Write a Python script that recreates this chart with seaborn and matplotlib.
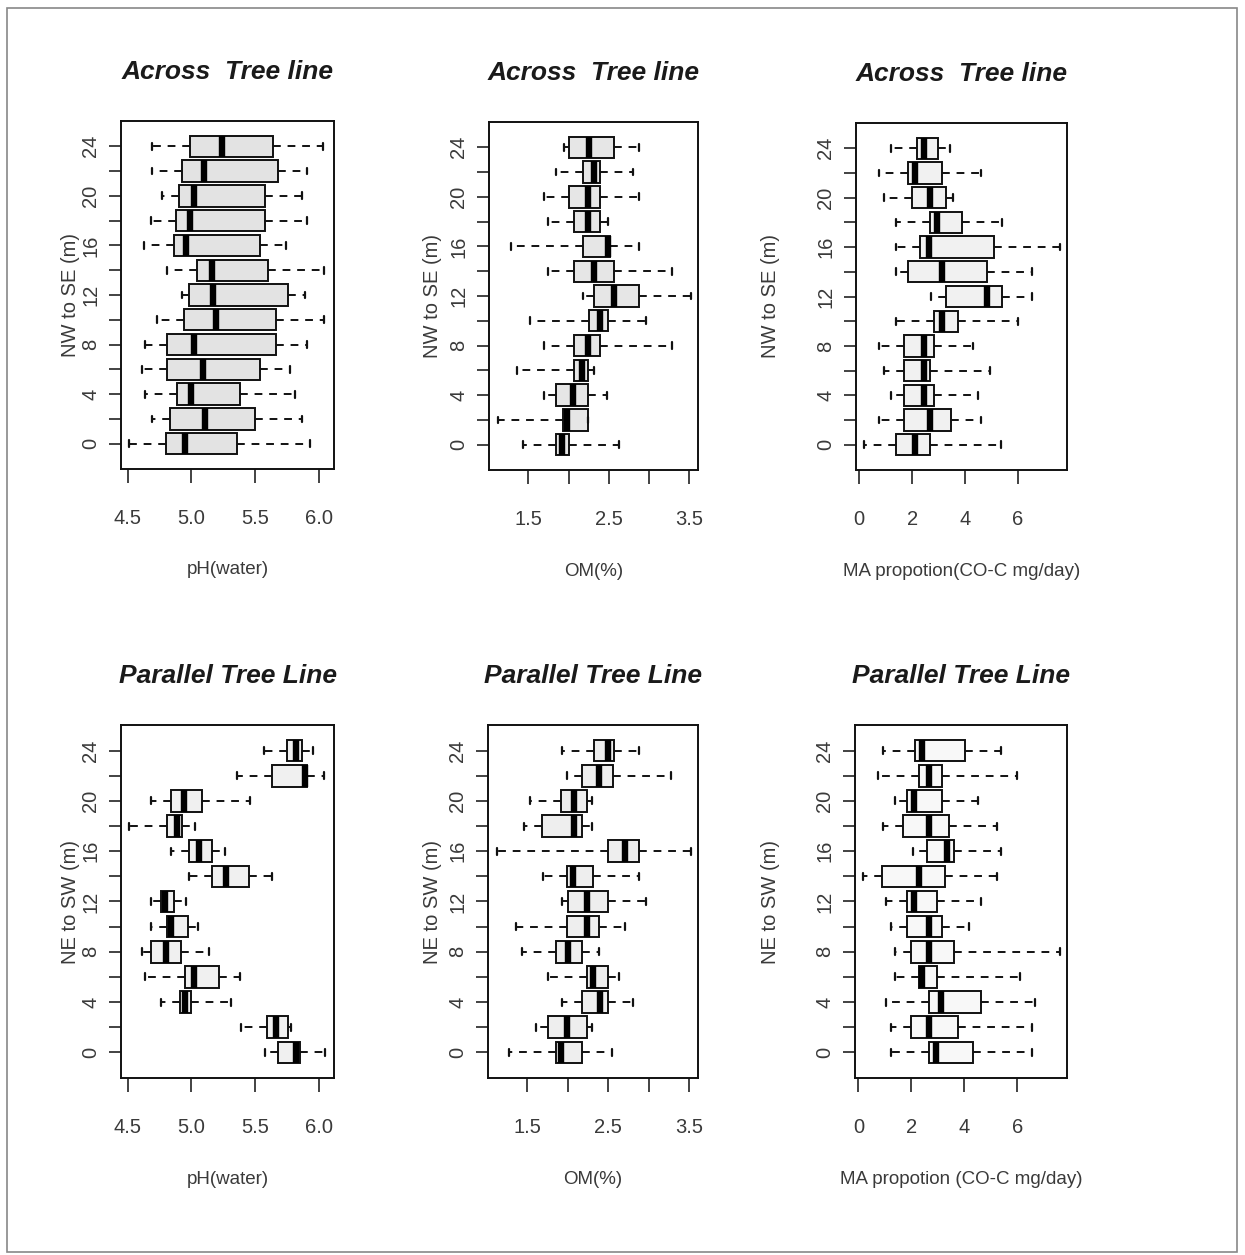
import numpy as np
import pandas as pd
import matplotlib
matplotlib.use("Agg")
import matplotlib.pyplot as plt
import seaborn as sns
from matplotlib.patches import Rectangle

# distance along transect (m)
positions = [0, 2, 4, 6, 8, 10, 12, 14, 16, 18, 20, 22, 24]

# five-number summaries [min, Q1, median, Q3, max], positions 0 .. 24
ph_across = [
    [4.51, 4.80, 4.95, 5.36, 5.93],
    [4.69, 4.83, 5.11, 5.50, 5.87],
    [4.64, 4.89, 5.00, 5.38, 5.81],
    [4.61, 4.81, 5.09, 5.54, 5.77],
    [4.64, 4.81, 5.02, 5.66, 5.91],
    [4.73, 4.94, 5.19, 5.66, 6.04],
    [4.93, 4.98, 5.17, 5.76, 5.89],
    [4.81, 5.04, 5.16, 5.60, 6.04],
    [4.63, 4.86, 4.96, 5.54, 5.74],
    [4.68, 4.88, 4.99, 5.58, 5.91],
    [4.77, 4.90, 5.02, 5.58, 5.87],
    [4.69, 4.93, 5.10, 5.68, 5.91],
    [4.69, 4.99, 5.24, 5.64, 6.03],
]
om_across = [
    [1.43, 1.84, 1.92, 2.00, 2.63],
    [1.12, 1.93, 1.98, 2.24, 2.24],
    [1.70, 1.84, 2.06, 2.24, 2.48],
    [1.36, 2.07, 2.17, 2.24, 2.31],
    [1.69, 2.07, 2.24, 2.39, 3.28],
    [1.52, 2.25, 2.39, 2.49, 2.96],
    [2.18, 2.32, 2.56, 2.88, 3.52],
    [1.75, 2.07, 2.32, 2.56, 3.28],
    [1.28, 2.18, 2.49, 2.52, 2.88],
    [1.75, 2.07, 2.24, 2.39, 2.49],
    [1.69, 2.00, 2.24, 2.39, 2.88],
    [1.84, 2.18, 2.32, 2.39, 2.80],
    [1.94, 2.00, 2.25, 2.56, 2.88],
]
ma_across = [
    [0.18, 1.38, 2.11, 2.68, 5.37],
    [0.76, 1.68, 2.68, 3.46, 4.63],
    [1.22, 1.68, 2.45, 2.83, 4.51],
    [0.93, 1.68, 2.45, 2.68, 4.95],
    [0.76, 1.68, 2.45, 2.83, 4.32],
    [1.38, 2.83, 3.13, 3.75, 6.02],
    [2.71, 3.28, 4.82, 5.40, 6.55],
    [1.38, 1.83, 3.13, 4.82, 6.55],
    [1.38, 2.30, 2.65, 5.11, 7.60],
    [1.38, 2.69, 2.95, 3.89, 5.39],
    [0.93, 1.98, 2.68, 3.27, 3.56],
    [0.76, 1.83, 2.11, 3.14, 4.63],
    [1.22, 2.17, 2.45, 2.98, 3.43],
]
ph_parallel = [
    [5.58, 5.68, 5.82, 5.85, 6.05],
    [5.39, 5.59, 5.66, 5.76, 5.78],
    [4.76, 4.91, 4.95, 5.00, 5.31],
    [4.64, 4.95, 5.02, 5.22, 5.38],
    [4.61, 4.68, 4.80, 4.92, 5.14],
    [4.68, 4.81, 4.84, 4.97, 5.05],
    [4.68, 4.76, 4.79, 4.86, 4.96],
    [4.98, 5.16, 5.27, 5.45, 5.63],
    [4.84, 4.98, 5.06, 5.16, 5.26],
    [4.51, 4.81, 4.89, 4.93, 5.03],
    [4.68, 4.84, 4.94, 5.08, 5.46],
    [5.36, 5.63, 5.89, 5.91, 6.04],
    [5.57, 5.75, 5.82, 5.87, 5.95],
]
om_parallel = [
    [1.27, 1.85, 1.92, 2.17, 2.55],
    [1.61, 1.75, 1.99, 2.23, 2.30],
    [1.93, 2.17, 2.40, 2.49, 2.80],
    [1.75, 2.24, 2.31, 2.49, 2.63],
    [1.43, 1.85, 2.00, 2.18, 2.39],
    [1.36, 1.99, 2.24, 2.39, 2.70],
    [1.93, 2.00, 2.24, 2.49, 2.96],
    [1.69, 1.99, 2.06, 2.31, 2.88],
    [1.12, 2.49, 2.71, 2.88, 3.52],
    [1.46, 1.68, 2.07, 2.17, 2.30],
    [1.53, 1.92, 2.07, 2.23, 2.30],
    [1.99, 2.17, 2.39, 2.56, 3.28],
    [1.93, 2.32, 2.50, 2.57, 2.88],
]
ma_parallel = [
    [1.22, 2.65, 2.93, 4.34, 6.55],
    [1.22, 1.98, 2.65, 3.75, 6.55],
    [1.06, 2.65, 3.13, 4.63, 6.68],
    [1.38, 2.27, 2.42, 2.98, 6.09],
    [1.38, 1.98, 2.65, 3.59, 7.60],
    [1.22, 1.83, 2.65, 3.14, 4.19],
    [1.06, 1.83, 2.11, 2.98, 4.63],
    [0.19, 0.91, 2.27, 3.27, 5.24],
    [2.05, 2.59, 3.35, 3.59, 5.39],
    [0.93, 1.67, 2.68, 3.43, 5.24],
    [1.38, 1.83, 2.11, 3.14, 4.51],
    [0.76, 2.30, 2.65, 3.14, 6.00],
    [0.93, 2.15, 2.42, 4.03, 5.39],
]

titles = ["Across  Tree line", "Parallel Tree Line"]
ylabels = ["NW to SE (m)", "NE to SW (m)"]
xlabels_top = ["pH(water)", "OM(%)", "MA propotion(CO-C mg/day)"]
xlabels_bottom = ["pH(water)", "OM(%)", "MA propotion (CO-C mg/day)"]
xticks = [[4.5, 5.0, 5.5, 6.0], [1.5, 2.0, 2.5, 3.0, 3.5], [0, 2, 4, 6]]
xticklabels = [["4.5", "5.0", "5.5", "6.0"], ["1.5", "", "2.5", "", "3.5"], ["0", "2", "4", "6"]]
yticks = positions
yticklabels = ["0", "", "4", "", "8", "", "12", "", "16", "", "20", "", "24"]

sns.set_theme(style="white")
plt.rcParams["font.family"] = ["Liberation Sans", "DejaVu Sans"]

W, H = 1245, 1255
fig = plt.figure(figsize=(W / 100, H / 100), dpi=100)
fig.patch.set_facecolor("white")

# axes boxes in pixels: (left, top, right, bottom)
boxes = [
    [(121, 121, 334, 469), (489, 122, 698, 470), (856, 123, 1067, 470)],
    [(121, 725, 334, 1078), (488, 725, 698, 1078), (855, 725, 1067, 1078)],
]
ylabel_x = [70, 433, 771]
xlims = [(4.448, 6.118), (1.012, 3.608), (-0.125, 7.87)]
fills = [["#e3e3e3", "#e6e6e6", "#f1f1f1"], ["#f0f0f0", "#eeeeee", "#f8f8f8"]]
datasets = [[ph_across, om_across, ma_across], [ph_parallel, om_parallel, ma_parallel]]

for r in range(2):
    for c in range(3):
        l, t, rr, b = boxes[r][c]
        ax = fig.add_axes([l / W, 1 - b / H, (rr - l) / W, (b - t) / H])
        rows = []
        for pos, summ in zip(positions, datasets[r][c]):
            for v in summ:
                rows.append({"pos": pos, "value": v})
        df = pd.DataFrame(rows)
        sns.boxplot(
            data=df, x="value", y="pos", orient="h", native_scale=True,
            whis=(0, 100), width=0.86, color=fills[r][c], saturation=1,
            linecolor="#111111", linewidth=1.4, ax=ax,
            medianprops=dict(linewidth=4.6, color="#000000", solid_capstyle="butt"),
            whiskerprops=dict(linestyle=(0, (4, 3.5)), linewidth=1.4),
            capprops=dict(linewidth=1.6),
            capwidths=0.55,
        )
        ax.set_ylim(-2.04, 26.04)
        ax.set_xlim(*xlims[c])
        ax.set_yticks(yticks)
        ax.set_yticklabels(yticklabels, rotation=90, va="center")
        ax.set_xticks(xticks[c])
        ax.set_xticklabels(xticklabels[c])
        ax.tick_params(axis="x", length=10, width=1.2, pad=19, labelsize=14.5,
                       labelcolor="#3a3a3a", color="#222222", bottom=True)
        ax.tick_params(axis="y", length=9, width=1.2, pad=6, labelsize=14.5,
                       labelcolor="#3a3a3a", color="#222222", left=True)
        for sp in ax.spines.values():
            sp.set_color("#111111")
            sp.set_linewidth(1.4)
        ax.set_facecolor("white")
        ax.grid(False)
        ax.set_ylabel(ylabels[r], fontsize=14.5, color="#3a3a3a", va="center", ha="center")
        ax.yaxis.set_label_coords((ylabel_x[c] - l) / (rr - l), 0.5)
        xl = xlabels_top[c] if r == 0 else xlabels_bottom[c]
        ax.set_xlabel(xl, fontsize=13.5, color="#3a3a3a", va="center")
        ax.xaxis.set_label_coords(0.5, -(101 / (b - t)))
        ax.set_title(titles[r], fontsize=19, fontweight="bold", fontstyle="italic",
                     color="#1a1a1a", pad=30)

fig.add_artist(Rectangle((7 / W, 1 - 1252 / H), 1230 / W, 1244 / H,
                         transform=fig.transFigure, fill=False,
                         edgecolor="#888888", linewidth=1.2))

fig.savefig("out.png", dpi=100)
